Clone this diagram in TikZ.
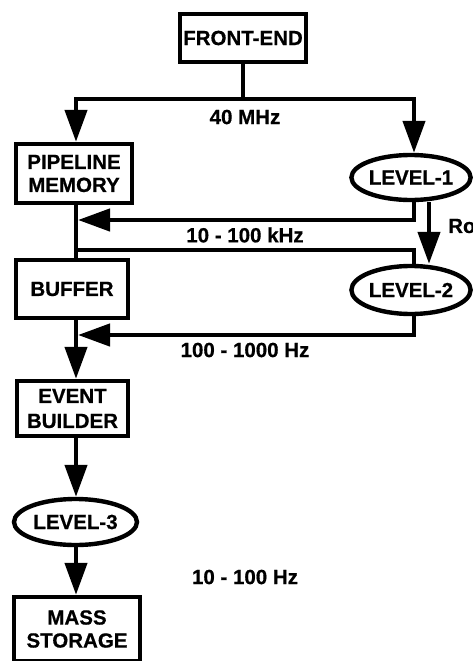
\documentclass[tikz,border=0pt]{standalone}
\usepackage{fontspec}
\setmainfont[BoldFeatures={FakeBold=0.6}]{Liberation Sans}
\usetikzlibrary{arrows.meta,shapes.geometric}
\begin{document}
\begin{tikzpicture}[x=1pt,y=-1pt,line width=4.4pt,
  every node/.style={font=\fontsize{20.5}{23}\selectfont\bfseries,inner sep=0pt,align=center},
  box/.style={draw,rectangle},
  oval/.style={draw,ellipse},
  arr/.style={-{Triangle[length=32pt,width=22pt]}}]
\useasboundingbox (0,0) rectangle (473,661);
% nodes
\node[box,minimum width=126pt,minimum height=48pt] (fe) at (243,38) {FRONT-END};
\node[box,minimum width=116pt,minimum height=59pt] (pm) at (74,173.5) {PIPELINE\\MEMORY};
\node[oval,minimum width=118pt,minimum height=45pt] (l1) at (411,177.5) {LEVEL-1};
\node[box,minimum width=112pt,minimum height=58pt] (buffer) at (72,289) {BUFFER};
\node[oval,minimum width=118pt,minimum height=48pt] (l2) at (411,290) {LEVEL-2};
\node[box,minimum width=111pt,minimum height=55pt,font=\fontsize{20.5}{25}\selectfont\bfseries] (eb) at (72.5,408.5) {EVENT\\BUILDER};
\node[oval,minimum width=123pt,minimum height=46pt] (l3) at (75.5,522) {LEVEL-3};
\node[box,minimum width=126pt,minimum height=64pt] (ms) at (77,629) {MASS\\STORAGE};
% labels
\node (f40) at (245,117) {40 MHz};
\node (fk) at (245,235) {10 - 100 kHz};
\node (fh) at (245,350) {100 - 1000 Hz};
\node (f10) at (245,577) {10 - 100 Hz};
\node[anchor=west] (roi) at (446,226) {RoI};
% helper coordinates
\coordinate (sx) at (76,0);
\coordinate (rx) at (414,0);
\coordinate (split) at (243,99);
\coordinate (fb1) at (78,220);
\coordinate (tap) at (76,250);
\coordinate (fb2) at (78,335);
% connectors
\draw (fe.south) -- (split);
\draw[arr] (split) -| (pm.north -| sx);
\draw[arr] (split) -| (l1.north -| rx);
\draw[arr] (l1.south -| rx) |- (fb1);
\draw (tap) -| (l2.north -| rx);
\draw[arr] (l2.south -| rx) |- (fb2);
\draw[arr] ([xshift=18pt]l1.south) -- ([xshift=18pt]l2.north);
\draw (pm.south -| sx) -- (buffer.north -| sx);
\draw[arr] (buffer.south -| sx) -- (eb.north -| sx);
\draw[arr] (eb.south -| sx) -- (l3.north -| sx);
\draw[arr] (l3.south -| sx) -- (ms.north -| sx);
\end{tikzpicture}
\end{document}
